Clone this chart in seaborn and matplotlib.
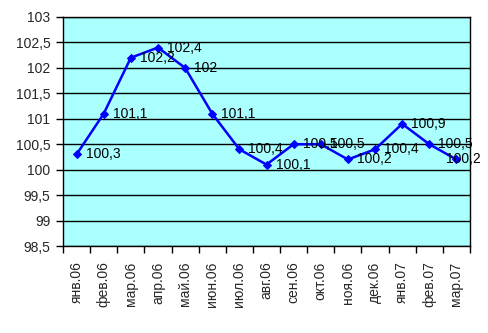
import matplotlib
matplotlib.use("Agg")
import matplotlib.pyplot as plt
import seaborn as sns
import pandas as pd
import numpy as np

months = ["янв.06", "фев.06", "мар.06", "апр.06", "май.06", "июн.06", "июл.06",
          "авг.06", "сен.06", "окт.06", "ноя.06", "дек.06", "янв.07", "фев.07", "мар.07"]
values = [100.3, 101.1, 102.2, 102.4, 102.0, 101.1, 100.4, 100.1, 100.5, 100.5,
          100.2, 100.4, 100.9, 100.5, 100.2]
y_ticks = [98.5, 99, 99.5, 100, 100.5, 101, 101.5, 102, 102.5, 103]

sns.set_theme(style="white")
plt.rcParams["font.family"] = ["Liberation Sans", "DejaVu Sans"]

df = pd.DataFrame({"pos": np.arange(len(months)), "value": values})

W, H = 489, 333
fig = plt.figure(figsize=(W / 100, H / 100), dpi=100)
ax = fig.add_axes([63 / W, 1 - 246 / H, (470 - 63) / W, (246 - 17) / H])
ax.set_facecolor("#AAFFFF")

sns.lineplot(data=df, x="pos", y="value", ax=ax, color="#0000FF", linewidth=1.8,
             marker="D", markersize=4.5, markeredgecolor="#0000FF", zorder=3)

def fmt(v):
    s = f"{v:.1f}".rstrip("0").rstrip(".")
    return s.replace(".", ",")

FS = 10
labels = []
for i, v in enumerate(values):
    t = ax.annotate(fmt(v), (i, v), xytext=(6.5, 0), textcoords="offset points",
                    ha="left", va="center", fontsize=FS, color="black", zorder=4,
                    annotation_clip=False)
    labels.append(t)

ax.set_xlim(-0.5, len(months) - 0.5)
ax.set_ylim(98.5, 103)
ax.set_yticks(y_ticks)
ax.set_yticklabels([fmt(t) for t in y_ticks], fontsize=FS)
ax.set_xticks(np.arange(len(months)))
ax.set_xticklabels(months, rotation=90, fontsize=FS)
ax.set_xticks(np.arange(len(months) + 1) - 0.5, minor=True)
ax.tick_params(axis="x", which="major", length=0, pad=11)
ax.tick_params(axis="x", which="minor", length=5, width=1, color="black", direction="out", bottom=True)
ax.tick_params(axis="y", length=5, width=1, color="black", direction="out", left=True, pad=4)
ax.grid(axis="y", color="black", linewidth=1)
ax.set_axisbelow(True)
for s in ax.spines.values():
    s.set_visible(True)
    s.set_color("black")
    s.set_linewidth(1)
ax.set_xlabel("")
ax.set_ylabel("")

# keep data labels inside the figure: shift any label that runs past the right edge
fig.canvas.draw()
renderer = fig.canvas.get_renderer()
for t in labels:
    bb = t.get_window_extent(renderer)
    limit = W - 8
    if bb.x1 > limit:
        dx_pt = (bb.x1 - limit) * 72 / fig.dpi
        x0, y0 = t.xyann
        t.xyann = (x0 - dx_pt, y0)

fig.savefig("out.png", dpi=100, facecolor="white")
